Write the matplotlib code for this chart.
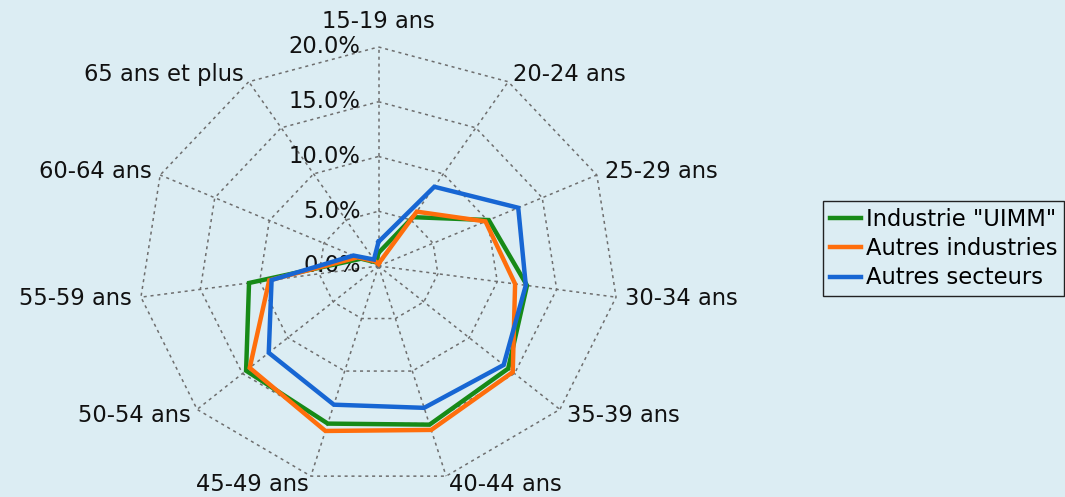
import numpy as np
import matplotlib.pyplot as plt

# age groups and share of employees (%) per sector
age_groups = ["15-19 ans", "20-24 ans", "25-29 ans", "30-34 ans", "35-39 ans",
              "40-44 ans", "45-49 ans", "50-54 ans", "55-59 ans", "60-64 ans",
              "65 ans et plus"]
uimm = [1.2, 5.3, 10.1, 12.5, 14.3, 15.1, 15.0, 14.6, 10.9, 1.6, 0.4]
autres_industries = [0.2, 5.9, 9.8, 11.5, 14.8, 15.6, 15.7, 14.2, 9.2, 1.9, 0.5]
autres_secteurs = [2.2, 8.6, 12.8, 12.4, 13.8, 13.5, 13.2, 12.1, 9.0, 2.3, 0.7]
levels = [5, 10, 15, 20]

bg = "#dcedf3"
plt.rcParams["font.family"] = ["DejaVu Sans"]
fsize = 16.3

n = len(age_groups)
theta = np.arange(n) * 2 * np.pi / n
sx, cy = np.sin(theta), np.cos(theta)


def to_xy(vals):
    v = np.asarray(vals, dtype=float)
    x = v * sx
    y = v * cy
    return np.append(x, x[0]), np.append(y, y[0])


fig = plt.figure(figsize=(10.65, 4.97), dpi=100, facecolor=bg)
ax = fig.add_axes([0.1075, 0.0131, 0.4958, 0.9034])
ax.set_facecolor(bg)
ax.set_xlim(-22, 22)
ax.set_ylim(-20.5, 20.5)
ax.axis("off")

# polygon grid and spokes
grid_kw = dict(color="#6e6e6e", linestyle=(0, (2, 2.5)), linewidth=1.1, zorder=1)
for lv in levels:
    gx, gy = to_xy([lv] * n)
    ax.plot(gx, gy, **grid_kw)
for i in range(n):
    ax.plot([0, levels[-1] * sx[i]], [0, levels[-1] * cy[i]], **grid_kw)

# radial tick labels
for lv in [0] + levels:
    ax.annotate(f"{lv:.1f}%", (0, lv), xytext=(-18, 0), textcoords="offset pixels",
                ha="right", va="center", fontsize=fsize, color="#111111")

# category labels around the outer ring
for i, lab in enumerate(age_groups):
    px, py = levels[-1] * sx[i], levels[-1] * cy[i]
    if abs(sx[i]) < 0.1:
        ax.annotate(lab, (px, py), xytext=(0, 14), textcoords="offset pixels",
                    ha="center", va="bottom", fontsize=fsize, color="#111111")
        continue
    ha = "left" if sx[i] > 0 else "right"
    ax.annotate(lab, (px, py), xytext=(9 * sx[i], 9 * cy[i]),
                textcoords="offset pixels", ha=ha, va="center",
                fontsize=fsize, color="#111111")

series = [
    ("Industrie \"UIMM\"", uimm, "#178a17"),
    ("Autres industries", autres_industries, "#ff6e0c"),
    ("Autres secteurs", autres_secteurs, "#1766d3"),
]
for z, (name, vals, col) in enumerate(series):
    lx, ly = to_xy(vals)
    ax.plot(lx, ly, color=col, linewidth=3.2, label=name, zorder=3 + z,
            solid_joinstyle="miter")

leg = fig.legend(loc="upper left", bbox_to_anchor=(823 / 1065, 1 - 201 / 497),
                 frameon=True, fancybox=False, edgecolor="#222222",
                 facecolor=bg, framealpha=1, fontsize=fsize,
                 handlelength=1.4, handletextpad=0.2, labelspacing=0.28,
                 borderpad=0.3, borderaxespad=0)
leg.get_frame().set_linewidth(1.0)

fig.savefig("out.png", dpi=100, facecolor=bg)
